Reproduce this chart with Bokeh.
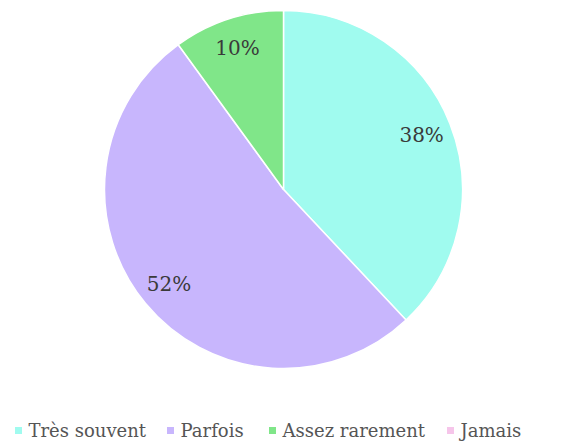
import math
from bokeh.plotting import figure
from bokeh.models import Range1d, ColumnDataSource
from bokeh.core.properties import value
from bokeh.embed import file_html
from bokeh.resources import INLINE

# ---- data ----
categories = ["Très souvent", "Parfois", "Assez rarement", "Jamais"]
percentages = [38, 52, 10, 0]
colors = ["#A0FBEF", "#C8B6FD", "#80E689", "#F6C5EA"]

# ---- layout (picture pixel coords, y downward -> data y = -pic_y) ----
W, H = 562, 441
cx, cy, R = 283, -189, 179
label_r = 0.83 * R
FONT = value("DejaVu Serif")

p = figure(width=W, height=H, output_backend="svg", toolbar_location=None,
           x_range=Range1d(0, W), y_range=Range1d(-H, 0),
           min_border=0, outline_line_color=None)
p.axis.visible = False
p.grid.visible = False
p.background_fill_color = "white"
p.border_fill_color = "white"

total = sum(percentages)
starts, ends, wcolors, lx, ly, ltext = [], [], [], [], [], []
cum = 0.0
for v, c in zip(percentages, colors):
    a0 = math.pi / 2 - 2 * math.pi * cum / total
    cum += v
    a1 = math.pi / 2 - 2 * math.pi * cum / total
    if v > 0:
        starts.append(a0)
        ends.append(a1)
        wcolors.append(c)
        mid = (a0 + a1) / 2
        lx.append(cx + label_r * math.cos(mid))
        ly.append(cy + label_r * math.sin(mid))
        ltext.append(f"{round(100 * v / total)}%")

src = ColumnDataSource(dict(start=starts, end=ends, color=wcolors))
p.wedge(x=cx, y=cy, radius=R, radius_units="screen", start_angle="start",
        end_angle="end", direction="clock", fill_color="color",
        line_color="white", line_width=1.5, source=src)

p.text(x=lx, y=ly, text=ltext, text_font=FONT,
       text_font_size="20px", text_color="#3a3a3a", text_align="center",
       text_baseline="middle")

# ---- legend ----
leg_sq_x = [18, 170, 272, 450]
leg_y = -430
p.scatter(x=leg_sq_x, y=[leg_y] * 4, marker="square", size=7,
          fill_color=colors, line_color=None)
p.text(x=[x + 10 for x in leg_sq_x], y=[leg_y] * 4, text=categories,
       text_font=FONT, text_font_size="18px",
       text_color="#555555", text_align="left", text_baseline="middle")

open("out.html", "w").write(file_html(p, INLINE))
